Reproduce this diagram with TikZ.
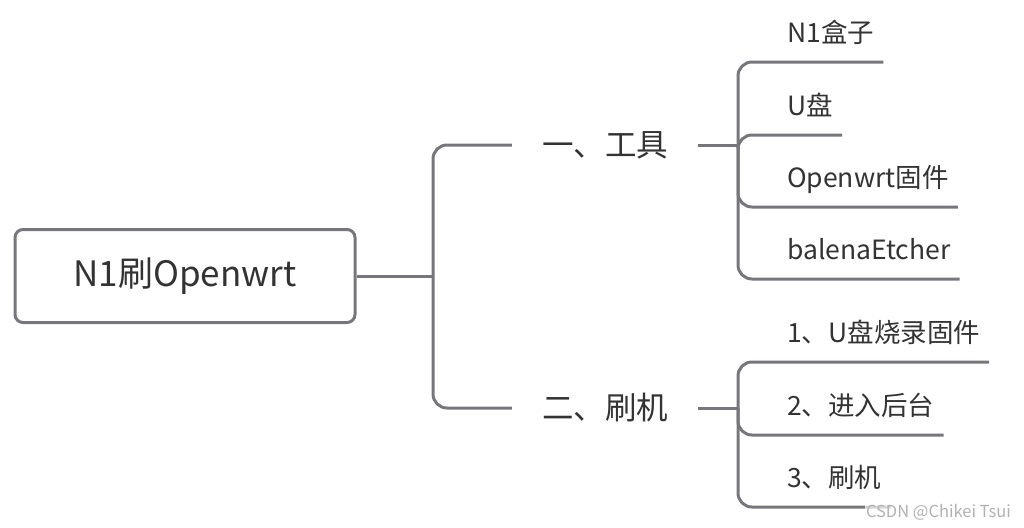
\documentclass[tikz,border=0pt]{standalone}
\usepackage{fontspec}
\setmainfont{Noto Sans CJK SC}
\definecolor{linegray}{RGB}{118,118,126}
\definecolor{textdark}{RGB}{51,51,51}

\begin{document}
\begin{tikzpicture}[x=1pt, y=-1pt,
    branch/.style={draw=linegray, line width=3pt, rounded corners=14pt},
    rootbox/.style={draw=linegray, line width=3pt, rounded corners=8pt,
      minimum width=340pt, minimum height=93pt, text=textdark,
      font=\fontsize{35}{41}\selectfont},
    topic/.style={minimum width=186pt, inner sep=0pt, text=textdark,
      font=\fontsize{31.5}{36}\selectfont},
    leaf/.style={anchor=south west, inner xsep=9pt, inner ysep=13pt,
      text depth=6pt, text=textdark, font=\fontsize{26.5}{31}\selectfont}]
    \useasboundingbox (0,0) rectangle (1024,527);

    % Central topic and its two main branches
    \node[rootbox] (root) at (185,276) {N1刷Openwrt};
    \coordinate (j0) at (433,276);
    \node[topic] (tools) at (605,145) {一、工具};
    \node[topic] (flash) at (605,408) {二、刷机};
    \draw[branch] (root.east) -- (j0);
    \foreach \t in {tools,flash} \draw[branch] (j0) |- (\t.west);

    % Branch one: what is needed
    \coordinate (j1) at (738,145);
    \node[leaf] (box)      at (778,62)  {N1盒子};
    \node[leaf] (udisk)    at (778,135) {U盘};
    \node[leaf] (firmware) at (778,207) {Openwrt固件};
    \node[leaf] (etcher)   at (778,279) {balenaEtcher};
    \draw[branch] (tools.east) -- (j1);
    \foreach \n in {box,udisk,firmware,etcher}
        \draw[branch] (j1) |- (\n.south west) -- (\n.south east);

    % Branch two: the steps
    \coordinate (j2) at (738,408);
    \node[leaf] (burn)  at (778,362) {1、U盘烧录固件};
    \node[leaf] (admin) at (778,435) {2、进入后台};
    \node[leaf] (step3) at (778,507) {3、刷机};
    \draw[branch] (flash.east) -- (j2);
    \foreach \n in {burn,admin,step3}
        \draw[branch] (j2) |- (\n.south west) -- (\n.south east);

    % Watermark
    \node[anchor=east, fill=white, fill opacity=0.7, text opacity=1,
          inner sep=1pt, text=gray!60, font=\fontsize{16.5}{20}\selectfont]
        (mark) at (1012,512) {CSDN @Chikei Tsui};
\end{tikzpicture}
\end{document}
